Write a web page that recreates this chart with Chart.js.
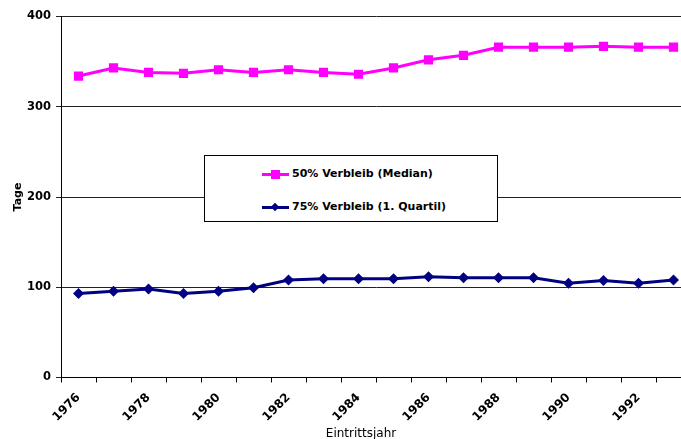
<!DOCTYPE html>
<html><head><meta charset="utf-8">
<script src="https://cdn.jsdelivr.net/npm/chart.js@4"></script>
<style>
html,body{margin:0;padding:0;background:#fff;overflow:hidden;width:681px;height:439px;}
#wrap{position:relative;width:681px;height:439px;overflow:hidden;}
#c{position:absolute;left:0;top:0;}
#legend{position:absolute;left:204px;top:155px;width:292px;height:65px;border:1px solid #000;background:#fff;font:bold 11px "DejaVu Sans",sans-serif;color:#000;}
.row{position:absolute;left:57px;height:14px;line-height:14px;white-space:nowrap;}
.sample{position:absolute;left:0;top:6px;width:27px;height:3px;}
.mk{position:absolute;}
.txt{position:absolute;left:30px;top:0;}
#xt{position:absolute;left:261px;top:426px;width:200px;text-align:center;font:12px "DejaVu Sans",sans-serif;line-height:14px;color:#000;}
</style></head>
<body><div id="wrap">
<canvas id="c" width="700" height="439"></canvas>
<div id="legend">
  <div class="row" style="top:11px"><div class="sample" style="background:#FF00FF"></div><div class="mk" style="left:9px;top:3px;width:9px;height:9px;background:#FF00FF"></div><span class="txt">50% Verbleib (Median)</span></div>
  <div class="row" style="top:44px"><div class="sample" style="background:#000080"></div><div class="mk" style="left:10px;top:4px;width:6px;height:6px;background:#000080;transform:rotate(45deg)"></div><span class="txt">75% Verbleib (1. Quartil)</span></div>
</div>
<div id="xt">Eintrittsjahr</div>
</div>
<script>
const years = ['1976','1977','1978','1979','1980','1981','1982','1983','1984','1985','1986','1987','1988','1989','1990','1991','1992','1993'];
const medianValues = [334,343,338,337,341,338,341,338,336,343,352,357,366,366,366,367,366,366];
const quartileValues = [93,95.5,98,93,95.5,99.5,108,109.5,109.5,109.5,111.5,110.5,110.5,110.5,104.5,107.5,104.5,108];
const yTicks = [0,100,200,300,400];

new Chart(document.getElementById('c'), {
  type: 'line',
  data: {
    labels: years,
    datasets: [
      {label:'50% Verbleib (Median)', data: medianValues, borderColor:'#FF00FF', backgroundColor:'#FF00FF', borderWidth:3, pointStyle:'rect', pointRadius:6.5, pointBorderWidth:0, tension:0},
      {label:'75% Verbleib (1. Quartil)', data: quartileValues, borderColor:'#000080', backgroundColor:'#000080', borderWidth:3, pointStyle:'rectRot', pointRadius:5.5, pointBorderWidth:0, tension:0}
    ]
  },
  options: {
    responsive:false, animation:false,
    layout:{padding:{top:16.5,right:9,bottom:0,left:0}},
    plugins:{legend:{display:false}, tooltip:{enabled:false}},
    scales:{
      x:{
        type:'category', offset:true,
        grid:{offset:true, drawOnChartArea:false, tickLength:5, color:'#000'},
        border:{color:'#000', width:1},
        ticks:{autoSkip:false, maxRotation:45, minRotation:45, padding:8, color:'#000', font:{family:'DejaVu Sans', size:12, weight:'bold'},
          callback:(v,i)=> i%2===0 ? years[i] : ''},
        afterFit:s=>{s.height=61.5;}
      },
      y:{
        min:0, max:400,
        afterBuildTicks:s=>{s.ticks = yTicks.map(v=>({value:v}));},
        grid:{color:'#222', tickLength:5},
        border:{color:'#000', width:1},
        ticks:{color:'#000', padding:5, font:{family:'DejaVu Sans', size:11.5, weight:'bold'}},
        title:{display:true, text:'Tage', color:'#000', font:{family:'DejaVu Sans', size:11, weight:'bold'}, padding:{top:12,bottom:0}},
        afterFit:s=>{s.width=61;}
      }
    }
  }
});
</script>
</body></html>
